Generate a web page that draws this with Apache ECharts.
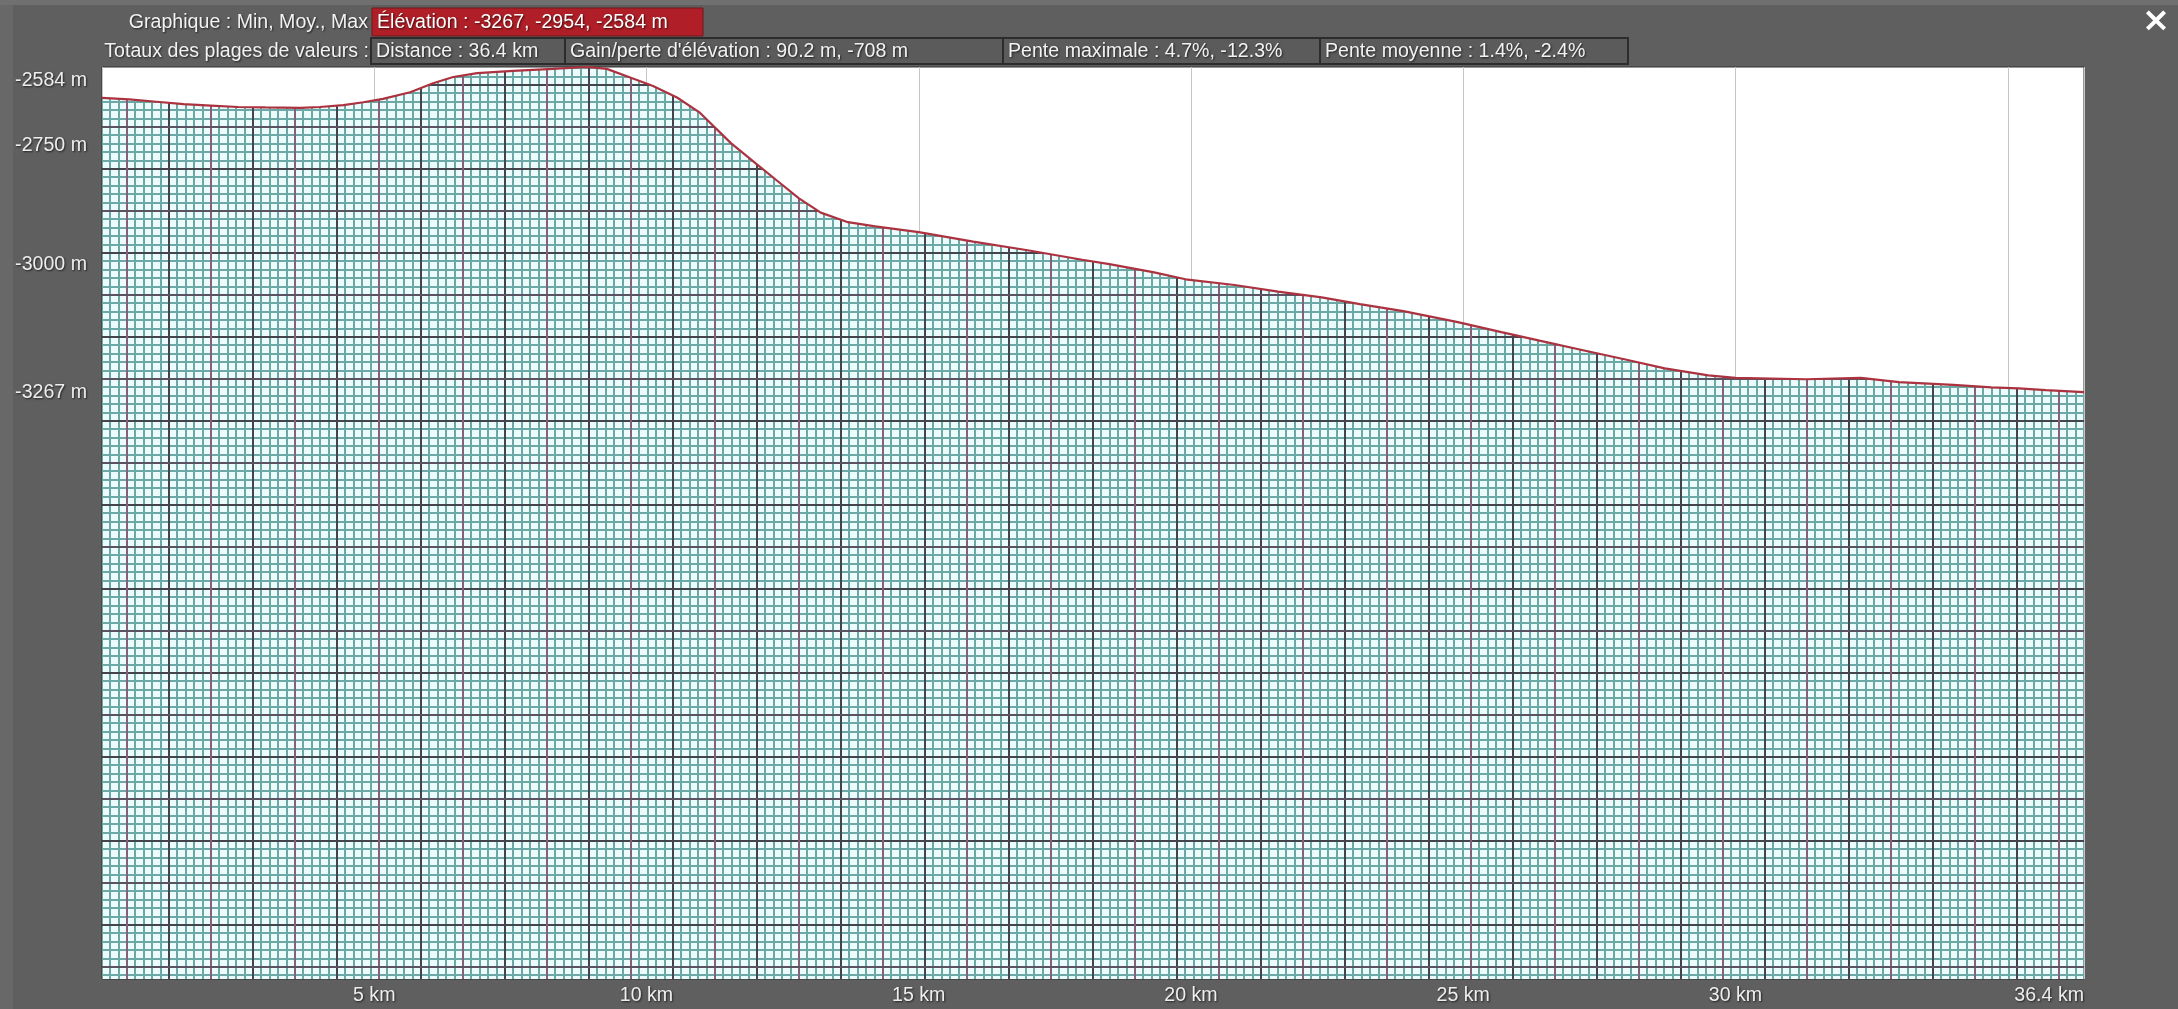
<!DOCTYPE html>
<html>
<head>
    <meta charset="utf-8">
    <title>Profil d'élévation</title>
    <script src="https://cdn.jsdelivr.net/npm/echarts@6/dist/echarts.min.js"></script>
    <style>
        html, body { margin: 0; padding: 0; background: #5f5f5f; }
        #main { width: 2178px; height: 1009px; }
    </style>
</head>
<body>
<div id="main"></div>
<script type="text/javascript">
    // profil : distance (km) / élévation (m)
    var distanceKm = [0, 0.5, 1.0, 1.5, 2.0, 2.5, 3.0, 3.64, 4.0, 4.43, 4.8, 5.16, 5.66, 6.08, 6.45, 6.89, 7.55, 8.28, 8.91,
        9.27, 9.75, 10.12, 10.56, 10.98, 11.55, 12.0, 12.4, 12.8, 13.2, 13.7, 14.2, 15.0, 16.0, 17.0, 18.0, 18.5,
        19.3, 19.9, 20.8, 21.6, 22.4, 23.1, 23.9, 24.9, 25.7, 26.4, 27.2, 28.0, 28.7, 29.5, 30.0, 31.3, 32.3,
        33.0, 34.0, 34.7, 35.2, 35.7, 36.4];
    var elevationM = [-2649, -2652, -2657, -2662, -2665, -2668, -2669, -2670, -2668, -2664, -2658, -2651, -2637, -2618, -2605, -2597, -2592, -2588, -2584,
        -2588, -2608, -2624, -2648, -2680, -2744, -2786, -2823, -2860, -2890, -2910, -2919, -2931, -2951, -2969, -2989, -2998,
        -3015, -3030, -3042, -3056, -3068, -3082, -3097, -3120, -3141, -3159, -3179, -3199, -3217, -3232, -3237, -3240, -3237,
        -3246, -3252, -3257, -3259, -3263, -3267];

    var xLabelValues = [5, 10, 15, 20, 25, 30, 36.4];
    var yLabelValues = [-3267, -3000, -2750, -2584];

    var headerTitle = 'Graphique : Min, Moy., Max';
    var headerElevation = 'Élévation : -3267, -2954, -2584 m';
    var totalsTitle = 'Totaux des plages de valeurs :';
    var totalsItems = [
        'Distance : 36.4 km',
        'Gain/perte d\'élévation : 90.2 m, -708 m',
        'Pente maximale : 4.7%, -12.3%',
        'Pente moyenne : 1.4%, -2.4%'
    ];
    var totalsBoxX = [371, 565, 1003, 1320, 1628];

    var points = distanceKm.map(function (d, i) { return [d, elevationM[i]]; });

    // motif papier millimétré pour le remplissage
    function makeGridPaper() {
        var size = 84, n = 10, step = size / n;
        var c = document.createElement('canvas');
        c.width = size;
        c.height = size;
        var ctx = c.getContext('2d');
        ctx.fillStyle = '#ecfcfc';
        ctx.fillRect(0, 0, size, size);
        ctx.fillStyle = '#6ca8a5';
        for (var i = 0; i < n; i++) {
            var p = Math.round(i * step);
            ctx.fillRect(p, 0, 2, size);
            ctx.fillRect(0, p, size, 2);
        }
        ctx.fillStyle = '#44444f';
        ctx.fillRect(0, 0, 2, size);
        ctx.fillRect(0, 0, size, 2);
        ctx.fillStyle = '#86607a';
        ctx.fillRect(size / 2, 0, 2, size);
        ctx.fillStyle = '#5a5361';
        ctx.fillRect(0, size / 2, size, 2);
        return c;
    }

    var textFont = '19.6px "Liberation Sans", Arial, sans-serif';
    var shadow = { textShadowColor: 'rgba(0,0,0,0.65)', textShadowBlur: 2, textShadowOffsetX: 1, textShadowOffsetY: 1 };

    var graphics = [
        { type: 'rect', shape: { x: 0, y: 0, width: 13, height: 1009 }, style: { fill: '#686868' }, z: -1 },
        { type: 'rect', shape: { x: 0, y: 0, width: 2178, height: 5 }, style: { fill: '#707070' }, z: -1 },
        { type: 'text', style: Object.assign({ text: headerTitle, x: 368, y: 23, align: 'right', verticalAlign: 'middle', fill: '#f2f2f2', font: textFont }, shadow) },
        { type: 'rect', shape: { x: 372, y: 8, width: 331, height: 28 }, style: { fill: '#b01f27', stroke: '#6e1a1a', lineWidth: 1 } },
        { type: 'text', style: Object.assign({ text: headerElevation, x: 377, y: 23, verticalAlign: 'middle', fill: '#ffffff', font: textFont }, shadow) },
        { type: 'text', style: Object.assign({ text: totalsTitle, x: 369, y: 52, align: 'right', verticalAlign: 'middle', fill: '#f2f2f2', font: textFont }, shadow) },
        { type: 'text', style: { text: '×', x: 2156, y: 22, align: 'center', verticalAlign: 'middle', fill: '#ffffff', font: 'bold 34px "DejaVu Sans", sans-serif' } }
    ];
    totalsItems.forEach(function (t, i) {
        graphics.push({
            type: 'rect',
            shape: { x: totalsBoxX[i], y: 38, width: totalsBoxX[i + 1] - totalsBoxX[i], height: 26 },
            style: { fill: '#5b5b5b', stroke: '#2c2c2c', lineWidth: 2 }
        });
        graphics.push({
            type: 'text',
            style: Object.assign({ text: t, x: totalsBoxX[i] + 5, y: 52, verticalAlign: 'middle', fill: '#f2f2f2', font: textFont }, shadow)
        });
    });

    var labelShadow = { textShadowColor: 'rgba(0,0,0,0.65)', textShadowBlur: 2, textShadowOffsetX: 1, textShadowOffsetY: 1 };

    var myChart = echarts.init(document.getElementById('main'));
    myChart.setOption({
        backgroundColor: '#5f5f5f',
        animation: false,
        graphic: graphics,
        grid: {
            left: 102, top: 67, width: 1982, height: 912,
            show: true, backgroundColor: '#ffffff', borderColor: '#333333', borderWidth: 1
        },
        xAxis: {
            type: 'value',
            min: 0,
            max: 36.4,
            interval: 5,
            axisLine: { show: false },
            axisTick: { show: false },
            splitLine: { show: true, lineStyle: { color: '#c6c6c6', width: 1 } },
            axisLabel: Object.assign({
                customValues: xLabelValues,
                formatter: function (v) { return v + ' km'; },
                color: '#eeeeee',
                fontSize: 19.6,
                fontFamily: 'Liberation Sans',
                margin: 7,
                alignMaxLabel: 'right'
            }, labelShadow)
        },
        yAxis: {
            type: 'value',
            min: -4500,
            max: -2584,
            axisLine: { show: false },
            axisTick: { show: false },
            splitLine: { show: false },
            axisLabel: Object.assign({
                customValues: yLabelValues,
                formatter: function (v) { return v === -2584 ? '{top|' + v + ' m}' : v + ' m'; },
                rich: { top: { padding: [4, 0, 0, 0] } },
                color: '#eeeeee',
                fontSize: 19.6,
                fontFamily: 'Liberation Sans',
                margin: 15,
                verticalAlignMaxLabel: 'top'
            }, labelShadow)
        },
        series: [{
            type: 'line',
            data: points,
            symbol: 'none',
            silent: true,
            lineStyle: { color: '#ad3240', width: 2.2 },
            areaStyle: { color: { image: makeGridPaper(), repeat: 'repeat' }, opacity: 1, origin: 'start' }
        }]
    });
</script>
</body>
</html>
